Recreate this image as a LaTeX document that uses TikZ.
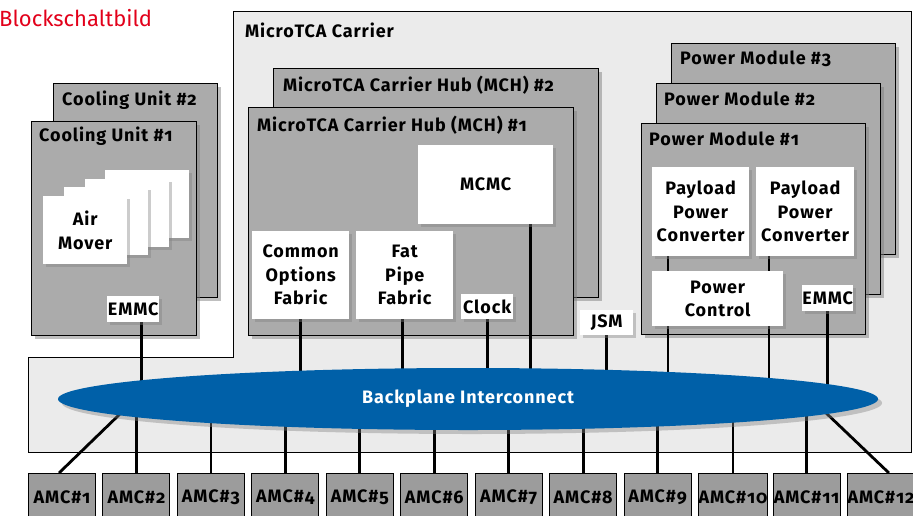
\documentclass[tikz,border=0pt]{standalone}
\usepackage{fontspec}
\setmainfont{Fira Sans}[Numbers=OldStyle]
\newfontfamily\boxfont{Fira Sans}[Numbers=OldStyle, LetterSpace=5]
\usetikzlibrary{shapes.geometric,shadows,backgrounds,positioning}
\pgfdeclarelayer{wires}
\pgfsetlayers{background,wires,main}

\definecolor{carriergray}{HTML}{EBEBEB}
\definecolor{modgray}{HTML}{ABABAB}
\definecolor{amcgray}{HTML}{9C9C9C}
\definecolor{bpblue}{HTML}{0060A8}
\definecolor{titlered}{HTML}{E2001A}

\tikzset{
  txt/.style={font=\boxfont\bfseries\fontsize{18}{23.5}\selectfont},
  carrier/.style={draw=black, line width=1pt, fill=carriergray},
  modbox/.style={draw=black, line width=1.3pt, fill=modgray, anchor=north west, inner sep=0pt,
    drop shadow={opacity=0.5, shadow xshift=3pt, shadow yshift=-3pt}},
  modtitle/.style={txt, anchor=west, inner sep=0pt},
  whitebox/.style={txt, fill=white, anchor=north west, inner sep=0pt, align=center,
    drop shadow={opacity=0.4, shadow xshift=2.5pt, shadow yshift=-2.5pt}},
  amcbox/.style={txt, draw=black, line width=1pt, fill=amcgray, anchor=north west, inner sep=0pt,
    minimum width=67pt, minimum height=48pt},
  wire/.style={draw=black, line width=2.8pt}
}

\begin{document}
\begin{tikzpicture}[x=1pt,y=-1pt]
\useasboundingbox (0,0) rectangle (913,515);

\node[anchor=west, inner sep=0pt, text=titlered, font=\fontsize{22}{26}\selectfont] (Title) at (-1,18) {Blockschaltbild};

\begin{pgfonlayer}{background}
% carrier frame
\path[carrier] (28,357) -- (233,357) -- (233,11) -- (911,11) -- (911,452) -- (28,452) -- cycle;

% cooling units
\node[modbox, minimum width=164pt, minimum height=214pt] (CoolTwo) at (53,83) {};
\node[modbox, minimum width=165pt, minimum height=214pt] (CoolOne) at (31,121) {};

% carrier hubs
\node[modbox, minimum width=325pt, minimum height=229pt] (MCHTwo) at (273,68) {};
\node[modbox, minimum width=325pt, minimum height=228pt] (MCHOne) at (248,107) {};

% power modules
\node[modbox, minimum width=224pt, minimum height=211pt] (PMThree) at (671,43) {};
\node[modbox, minimum width=224pt, minimum height=211pt] (PMTwo) at (656,83) {};
\node[modbox, minimum width=224pt, minimum height=211pt] (PMOne) at (641,123) {};
\end{pgfonlayer}

\node[modtitle] (CarrierTitle) at (245,30) {MicroTCA Carrier};
\node[modtitle] (CoolTwoTitle) at ([shift={(9,17)}]CoolTwo.north west) {Cooling Unit \#2};
\node[modtitle] (CoolOneTitle) at ([shift={(8,15)}]CoolOne.north west) {Cooling Unit \#1};
\node[modtitle] (MCHTwoTitle) at ([shift={(10,17)}]MCHTwo.north west) {MicroTCA Carrier Hub (MCH) \#2};
\node[modtitle] (MCHOneTitle) at ([shift={(9,18)}]MCHOne.north west) {MicroTCA Carrier Hub (MCH) \#1};
\node[modtitle] (PMThreeTitle) at ([shift={(9,16)}]PMThree.north west) {Power Module \#3};
\node[modtitle] (PMTwoTitle) at ([shift={(8,16)}]PMTwo.north west) {Power Module \#2};
\node[modtitle] (PMOneTitle) at ([shift={(8,16)}]PMOne.north west) {Power Module \#1};

% air movers, back to front
\node[whitebox, minimum width=84pt, minimum height=68pt] (AirFour) at (105,170) {};
\node[whitebox, minimum width=84pt, minimum height=68pt] (AirThree) at (85,179) {};
\node[whitebox, minimum width=84pt, minimum height=68pt] (AirTwo) at (64,187) {};
\node[whitebox, minimum width=84pt, minimum height=68pt] (AirOne) at (43,196) {Air\\Mover};
\node[whitebox, minimum width=52pt, minimum height=26pt] (CoolEMMC) at (107,296) {EMMC};

% hub parts
\node[whitebox, minimum width=135pt, minimum height=79pt] (MCMC) at (418,145) {MCMC};
\node[whitebox, minimum width=97pt, minimum height=88pt] (COF) at (252,231) {Common\\Options\\Fabric};
\node[whitebox, minimum width=97pt, minimum height=88pt] (FPF) at (356,231) {Fat\\Pipe\\Fabric};
\node[whitebox, minimum width=52pt, minimum height=25pt] (Clock) at (461,294) {Clock};
\node[whitebox, minimum width=53pt, minimum height=25pt] (JSM) at (580,310) {JSM};

% power module parts
\node[whitebox, minimum width=97pt, minimum height=89pt] (PPCOne) at (652,167) {Payload\\Power\\Converter};
\node[whitebox, minimum width=98pt, minimum height=89pt] (PPCTwo) at (756,167) {Payload\\Power\\Converter};
\node[whitebox, minimum width=131pt, minimum height=55pt] (PowerCtrl) at (652,271) {Power\\Control};
\node[whitebox, minimum width=51pt, minimum height=26pt] (PMEMMC) at (802,285) {EMMC};

% backplane
\node[ellipse, fill=bpblue, inner sep=0pt, minimum width=820pt, minimum height=62pt,
  text=white, txt, drop shadow={opacity=0.4, shadow xshift=4pt, shadow yshift=-4pt}]
  (BP) at (468,399) {Backplane Interconnect};

% AMC slots
\foreach \i in {1,...,12}
  \node[amcbox] (AMC\i) at ({28+(\i-1)*74.45},473) {AMC\#\i};

\coordinate (AMCOneEnd) at (122,412);
\coordinate (AMCTwelveEnd) at (824,411);

\begin{pgfonlayer}{wires}
\path[wire] ([xshift=8pt]CoolEMMC.south) edge ([xshift=8pt]CoolEMMC.south |- BP.center);
\path[wire] (COF.south) edge (COF.south |- BP.center);
\path[wire] ([xshift=-2pt]FPF.south) edge ([xshift=-2pt]FPF.south |- BP.center);
\path[wire] (Clock.south) edge (Clock.south |- BP.center);
\path[wire] ([xshift=-23pt]MCMC.south east) edge ([xshift=-23pt]MCMC.south east |- BP.center);
\path[wire] (JSM.south) edge (JSM.south |- BP.center);
\path[wire] ([xshift=16pt]PPCOne.south west) edge ([xshift=16pt]PPCOne.south west |- BP.center);
\path[wire] ([xshift=13pt]PPCTwo.south west) edge ([xshift=13pt]PPCTwo.south west |- BP.center);
\path[wire] (PMEMMC.south) edge (PMEMMC.south |- BP.center);

\path[wire] ([xshift=-3pt]AMC1.north) edge (AMCOneEnd);
\foreach \i in {2,...,11}
  \path[wire] (AMC\i.north) edge (AMC\i.north |- BP.center);
\path[wire] ([xshift=8pt]AMC12.north) edge (AMCTwelveEnd);
\end{pgfonlayer}
\end{tikzpicture}
\end{document}
